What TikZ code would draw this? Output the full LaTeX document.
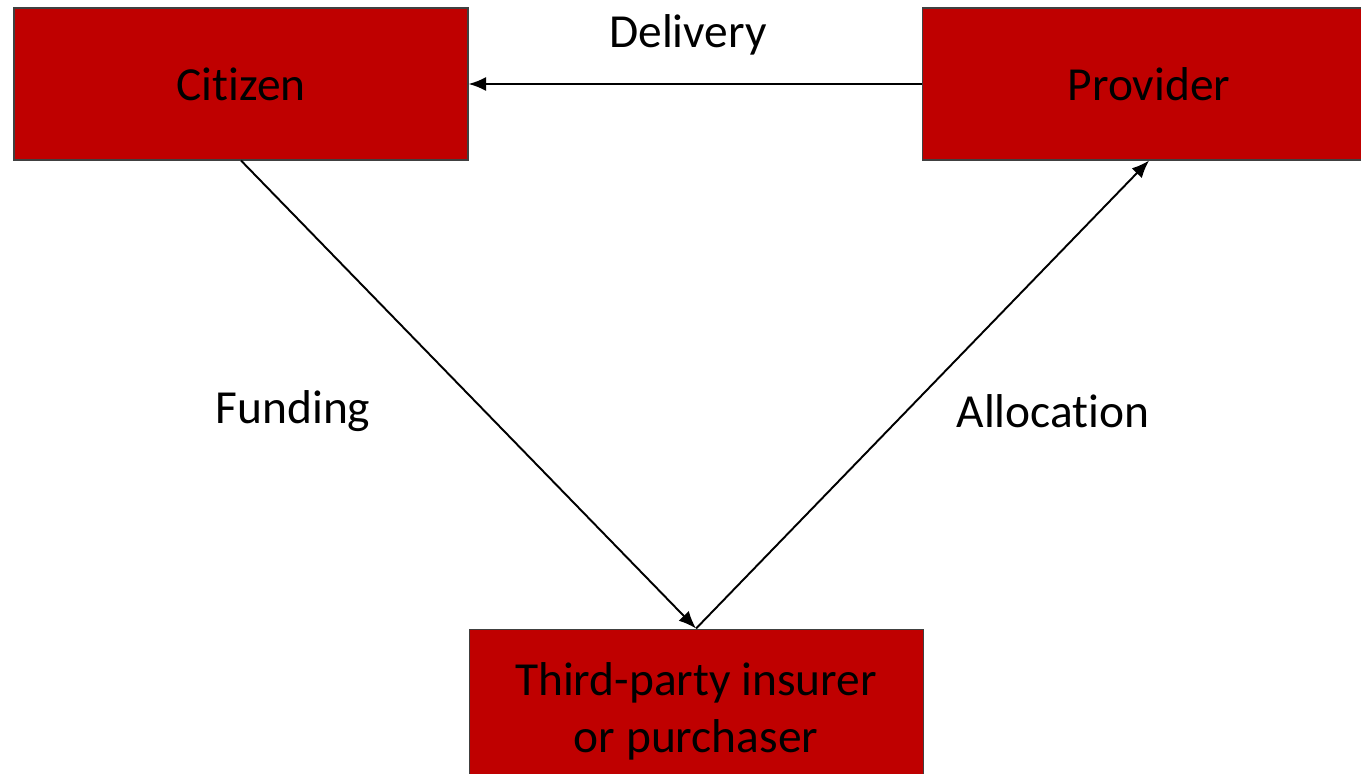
\documentclass[tikz,border=0pt]{standalone}
\usepackage{fontspec}
\setmainfont{Carlito}[Ligatures={NoCommon,NoContextual},Contextuals=NoAlternate]
\usetikzlibrary{positioning,arrows.meta}

\begin{document}
\begin{tikzpicture}[node distance=9.06cm,
    actor/.style={rectangle, draw=black!75, line width=0.6pt, fill=red!75!black, minimum width=9.08cm, minimum height=3.04cm, align=center, font=\fontsize{27}{32.4}\selectfont},
    flowlabel/.style={font=\fontsize{27}{32.4}\selectfont},
    arrow/.style={line width=1.1pt, -{Latex[length=10pt,width=8pt]}}]

\useasboundingbox (0,0) rectangle (27.22,-15.48);

\node [actor] (citizen) at (4.82,-1.68) {Citizen};

\node [actor, right=of citizen] (provider) {Provider};

\node [actor, minimum height=3.3cm, below right=9.36cm and 0cm of citizen.south east] (insurer) {Third-party insurer\\or purchaser};

\node [flowlabel] (delivery) at (13.76,-0.7) {Delivery};
\node [flowlabel] (funding) at (5.86,-8.22) {Funding};
\node [flowlabel] (allocation) at (21.06,-8.22) {Allocation};

\draw [arrow] (provider.west) -- (citizen.east);
\draw [arrow] (citizen.south) -- (insurer.north);
\draw [arrow] (insurer.north) -- (provider.south);

\end{tikzpicture}
\end{document}
